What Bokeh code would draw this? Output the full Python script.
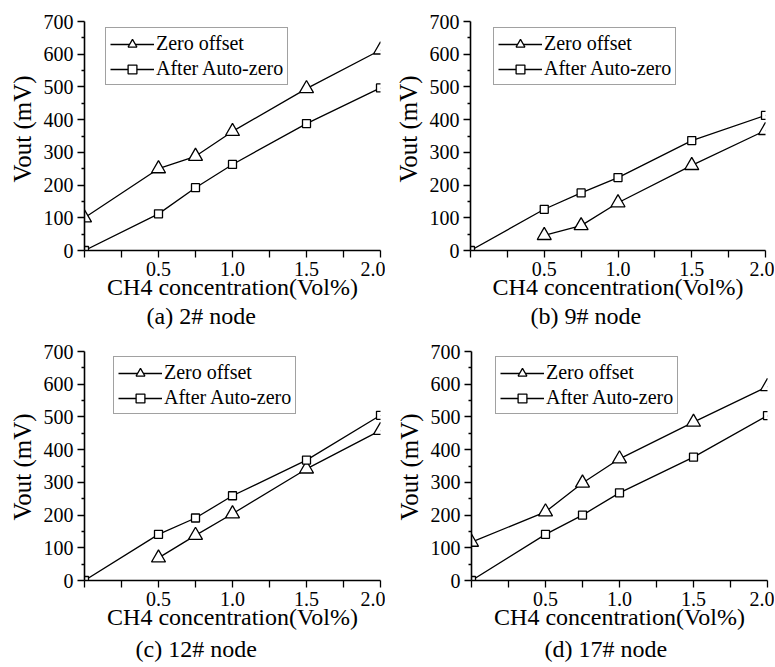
from bokeh.plotting import figure
from bokeh.models import (FixedTicker, PrintfTickFormatter, Legend, LegendItem,
                          Title, Range1d)
from bokeh.layouts import column, row
from bokeh.embed import file_html
from bokeh.resources import INLINE

# ---------------- data ----------------
conc_full = [0, 0.5, 0.75, 1.0, 1.5, 2.0]
conc_part = [0.5, 0.75, 1.0, 1.5, 2.0]

a_zero_x = conc_full
a_zero = [100, 250, 288, 364, 495, 613]
a_auto_x = conc_full
a_auto = [0, 112, 192, 263, 388, 497]

b_zero_x = conc_part
b_zero = [46, 76, 146, 260, 367]
b_auto_x = conc_full
b_auto = [0, 126, 176, 223, 336, 413]

c_zero_x = conc_part
c_zero = [69, 138, 204, 341, 459]
c_auto_x = conc_full
c_auto = [0, 141, 191, 259, 368, 505]

d_zero_x = conc_full
d_zero = [117, 210, 298, 372, 484, 593]
d_auto_x = conc_full
d_auto = [0, 141, 200, 268, 377, 504]

y_major = [0, 100, 200, 300, 400, 500, 600, 700]
y_minor = [50, 150, 250, 350, 450, 550, 650]
x_major = [0.5, 1.0, 1.5, 2.0]
x_minor = [0, 0.25, 0.75, 1.25, 1.75]

series_names = ["Zero offset", "After Auto-zero"]
captions = ["(a) 2# node", "(b) 9# node", "(c) 12# node", "(d) 17# node"]
x_title = "CH4 concentration(Vol%)"
y_title = "Vout (mV)"

FONT = "Liberation Serif"


def make_panel(zx, zy, ax, ay, caption, width, height, left, right, top,
               bottom, legend_xy, cap_offset, cap_standoff, ylab_offset):
    p = figure(width=width, height=height, output_backend="svg",
               toolbar_location=None, x_range=Range1d(0, 2.0),
               y_range=Range1d(0, 700), min_border_left=left,
               min_border_right=right, min_border_top=top,
               min_border_bottom=bottom)
    p.outline_line_color = None
    p.grid.visible = False
    p.background_fill_color = "white"
    p.border_fill_color = "white"

    xa = p.xaxis[0]
    xa.ticker = FixedTicker(ticks=x_major, minor_ticks=x_minor)
    xa.formatter = PrintfTickFormatter(format="%.1f")
    ya = p.yaxis[0]
    ya.ticker = FixedTicker(ticks=y_major, minor_ticks=y_minor)
    for ax_ in (xa, ya):
        ax_.axis_line_width = 1.6
        ax_.axis_line_color = "black"
        ax_.major_tick_line_color = "black"
        ax_.minor_tick_line_color = "black"
        ax_.major_tick_line_width = 1.3
        ax_.minor_tick_line_width = 1.3
        ax_.major_tick_in = 0
        ax_.minor_tick_in = 0
        ax_.major_label_text_font = FONT
        ax_.major_label_text_font_size = "20px"
        ax_.major_label_text_color = "black"
        ax_.axis_label_text_font = FONT
        ax_.axis_label_text_font_style = "normal"
        ax_.axis_label_text_color = "black"
    xa.major_tick_out = 7
    xa.minor_tick_out = 7
    xa.major_label_standoff = 4
    xa.axis_label = x_title
    xa.axis_label_text_font_size = "24px"
    xa.axis_label_standoff = -5
    ya.major_tick_out = 7
    ya.minor_tick_out = 3
    ya.major_label_standoff = 4

    p.add_layout(Title(text=y_title, align="left", offset=ylab_offset,
                       standoff=10, vertical_align="bottom", text_font=FONT,
                       text_font_size="25px", text_font_style="normal",
                       text_color="black"), "left")
    p.add_layout(Title(text=caption, align="left", offset=cap_offset,
                       standoff=cap_standoff, vertical_align="top",
                       text_font=FONT, text_font_size="24px",
                       text_font_style="normal", text_color="black"), "below")

    l1 = p.line(zx, zy, line_color="black", line_width=1.3)
    s1 = p.scatter(zx, zy, marker="triangle", size=14, fill_color="white",
                   line_color="black", line_width=1.3)
    l2 = p.line(ax, ay, line_color="black", line_width=1.3)
    s2 = p.scatter(ax, ay, marker="square", size=8, fill_color="white",
                   line_color="black", line_width=1.3)

    legend = Legend(items=[LegendItem(label=series_names[0], renderers=[l1, s1]),
                           LegendItem(label=series_names[1], renderers=[l2, s2])],
                    location=legend_xy, border_line_color="#444444",
                    border_line_width=1, padding=4, spacing=2, margin=0,
                    glyph_width=44, glyph_height=22, label_height=22,
                    label_standoff=2, label_text_font=FONT,
                    label_text_font_size="20px", label_text_color="black",
                    background_fill_color="white", background_fill_alpha=1)
    p.add_layout(legend)
    return p


pa = make_panel(a_zero_x, a_zero, a_auto_x, a_auto, captions[0],
                385, 331, 84, 5, 21, 81, (21, 165), 62, 0, 68)
pb = make_panel(b_zero_x, b_zero, b_auto_x, b_auto, captions[1],
                389, 331, 85, 9, 21, 81, (23, 165), 60, 0, 68)
pc = make_panel(c_zero_x, c_zero, c_auto_x, c_auto, captions[2],
                385, 335, 84, 5, 20, 86, (29, 166), 51, 6, 60)
pd = make_panel(d_zero_x, d_zero, d_auto_x, d_auto, captions[3],
                389, 335, 86, 7, 20, 86, (24, 166), 73, 6, 60)

layout = column(row(pa, pb), row(pc, pd))
open("out.html", "w").write(file_html(layout, INLINE))
